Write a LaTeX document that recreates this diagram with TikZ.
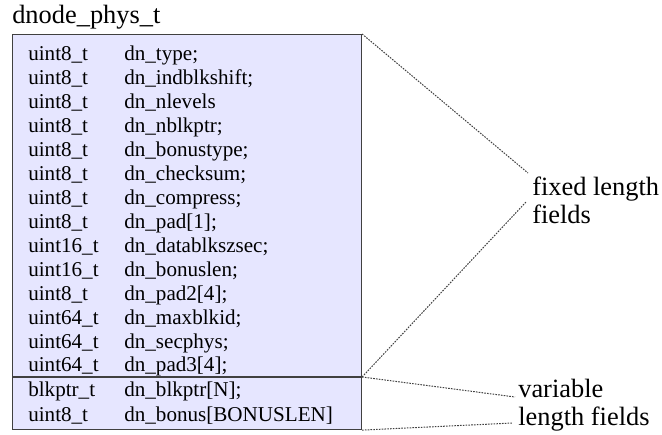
\documentclass[tikz,border=0pt]{standalone}
\usepackage{fontspec}
\setmainfont{Liberation Serif}
\newfontfamily\fieldfont{Liberation Serif}
\usepackage{tikz}
\usetikzlibrary{positioning}

\definecolor{boxfill}{RGB}{230,230,255}

\begin{document}
\begin{tikzpicture}[x=1pt,y=-1pt,semithick]
	\tikzstyle{field}=[anchor=base west,inner sep=0pt,font=\fieldfont\fontsize{21.1}{24}\selectfont]
	\tikzstyle{label}=[anchor=base west,inner sep=0pt,align=left,font=\fieldfont\fontsize{26.4}{28.5}\selectfont]
	\tikzstyle{leader}=[dash pattern=on 1.6pt off 1.2pt,line width=1pt,black!75]

	\useasboundingbox (0,0) rectangle (662,435);

	\node[label] (title) at (12,24) {dnode\_phys\_t};
	\node[draw=black!75,fill=boxfill,line width=1.1pt,inner sep=0pt,anchor=north west,
		minimum width=349pt,minimum height=395pt] (box) at (12,34) {};
	\coordinate (split) at (12,377);
	\draw[black!75,line width=1.1pt] (split) -- (split -| box.east);

	% field rows: baseline / type / name
	\foreach \y/\t/\n [count=\i] in {
		61/uint8\_t/dn\_type;,
		85/uint8\_t/dn\_indblkshift;,
		109/uint8\_t/dn\_nlevels,
		133/uint8\_t/dn\_nblkptr;,
		157/uint8\_t/dn\_bonustype;,
		181/uint8\_t/dn\_checksum;,
		205/uint8\_t/dn\_compress;,
		229/uint8\_t/dn\_pad[1];,
		253/uint16\_t/dn\_datablkszsec;,
		277/uint16\_t/dn\_bonuslen;,
		301/uint8\_t/dn\_pad2[4];,
		325/uint64\_t/dn\_maxblkid;,
		349/uint64\_t/dn\_secphys;,
		372/uint64\_t/dn\_pad3[4];,
		397/blkptr\_t/dn\_blkptr[N];,
		422/uint8\_t/dn\_bonus[BONUSLEN]}
	{
		\node[field] (type\i) at (28,\y) {\t};
		\node[field] (name\i) at (124,\y) {\n};
	}

	% base anchor sits on the last line
	\node[label] (fixed) at (532,224) {fixed length\\fields};
	\node[label] (variable) at (518,426) {variable\\length fields};

	\coordinate (fixedtop) at (528,173);
	\coordinate (fixedbot) at (526,202);
	\coordinate (vartop) at (515,397);
	\coordinate (varbot) at (513,423);

	\draw[leader] (box.north east) -- (fixedtop);
	\draw[leader] (split -| box.east) -- (fixedbot);
	\draw[leader] (split -| box.east) -- (vartop);
	\draw[leader] (box.south east) -- (varbot);
\end{tikzpicture}
\end{document}
